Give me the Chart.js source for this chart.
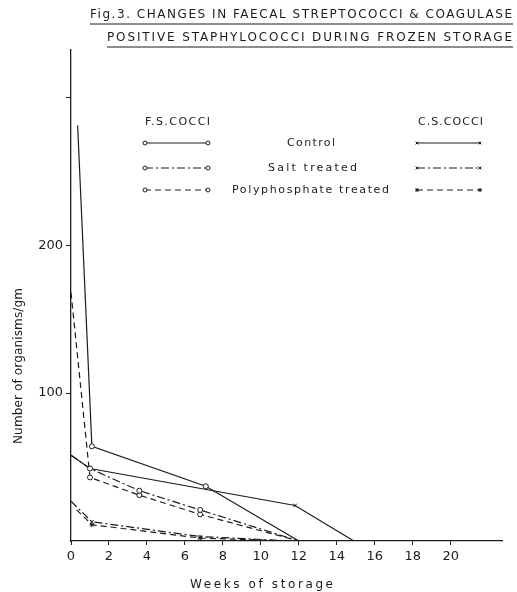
<!DOCTYPE html>
<html>
<head>
<meta charset="utf-8">
<script src="https://cdn.jsdelivr.net/npm/chart.js@4.4.0/dist/chart.umd.min.js"></script>
<style>
  html, body { margin: 0; padding: 0; background: #fff; }
  #wrap { width: 517px; height: 592px; position: relative; }
</style>
</head>
<body>
<div id="wrap"><canvas id="chart" width="517" height="592"></canvas></div>
<script>
// values (weeks of storage / organisms per gm)
const fsControlWeeks = [0.35, 1.1, 7.1, 12];
const fsControl = [281, 64, 37, 0];
const fsSaltWeeks = [0, 1, 3.6, 6.8, 12];
const fsSalt = [58, 49, 34, 21, 0];
const fsPolyWeeks = [0, 1, 3.6, 6.8, 12];
const fsPoly = [168, 43, 31, 18, 0];
const csControlWeeks = [0, 1, 11.8, 14.9];
const csControl = [58, 49, 24, 0];
const csSaltWeeks = [0, 1.1, 6.8, 11.7];
const csSalt = [27, 13, 3, 0];
const csPolyWeeks = [0.3, 1.1, 6.8, 11.5];
const csPoly = [21, 11, 2, 0];

const xTicks = [0, 2, 4, 6, 8, 10, 12, 14, 16, 18, 20];
const yTicks = [100, 200, 300];
const yLabelled = [100, 200];
const rowLabels = ["Control", "Salt treated", "Polyphosphate treated"];
const titleLines = [
    "Fig.3. CHANGES IN FAECAL STREPTOCOCCI & COAGULASE",
    "POSITIVE STAPHYLOCOCCI DURING FROZEN STORAGE",
];
const xTitle = "Weeks of storage";
const yTitle = "Number of organisms/gm";

const ink = "#1c1c1c";
const font = "'DejaVu Sans', sans-serif";
const solid = [];
const dashDot = [8, 3, 2, 3];
const dashed = [6, 4];

function pts(xs, ys) {
    return xs.map((x, i) => ({ x: x, y: ys[i] }));
}

function series(label, xs, ys, dash, marker) {
    return {
        label: label,
        data: pts(xs, ys),
        borderColor: ink,
        backgroundColor: "#fff",
        borderWidth: 1.2,
        borderDash: dash,
        pointStyle: marker,
        pointBorderColor: ink,
        pointBorderWidth: 1,
        pointRadius: (ctx) => (ctx.dataIndex > 0 && ctx.raw && ctx.raw.y > 0 ? 2.5 : 0),
        tension: 0,
    };
}

// draws text stretched between x0 and x1
function spreadText(ctx, text, x0, x1, y) {
    ctx.letterSpacing = "0px";
    const w = ctx.measureText(text).width;
    const sp = (x1 - x0 - w) / (text.length - 1);
    ctx.letterSpacing = sp + "px";
    ctx.textAlign = "left";
    ctx.fillText(text, x0, y);
    ctx.letterSpacing = "0px";
}

const decor = {
    id: "decor",
    afterDraw(chart) {
        const ctx = chart.ctx;
        ctx.save();
        ctx.fillStyle = ink;
        ctx.strokeStyle = ink;
        ctx.textBaseline = "middle";

        // title, underlined
        ctx.font = "12px " + font;
        spreadText(ctx, titleLines[0], 90, 512, 15);
        spreadText(ctx, titleLines[1], 107, 512, 38);
        ctx.lineWidth = 1;
        ctx.beginPath();
        ctx.moveTo(90, 24); ctx.lineTo(513, 24);
        ctx.moveTo(107, 47); ctx.lineTo(513, 47);
        ctx.stroke();

        // axis titles
        ctx.font = "12px " + font;
        spreadText(ctx, xTitle, 190, 333, 585);
        ctx.save();
        ctx.translate(19, 366);
        ctx.rotate(-Math.PI / 2);
        spreadText(ctx, yTitle, -78, 78, 0);
        ctx.restore();

        // legend
        ctx.font = "11px " + font;
        spreadText(ctx, "F.S.COCCI", 145, 210, 122);
        spreadText(ctx, "C.S.COCCI", 418, 483, 122);
        const rowsY = [143, 168, 190];
        const rowSpan = [[287, 335], [268, 357], [232, 389]];
        const ds = chart.data.datasets;
        rowsY.forEach((y, i) => {
            ctx.fillStyle = ink;
            spreadText(ctx, rowLabels[i], rowSpan[i][0], rowSpan[i][1], y);
            [[ds[i], 145, 208], [ds[i + 3], 417, 480]].forEach(([d, a, b]) => {
                ctx.setLineDash(d.borderDash);
                ctx.lineWidth = 1.2;
                ctx.beginPath();
                ctx.moveTo(a, y); ctx.lineTo(b, y);
                ctx.stroke();
                ctx.setLineDash([]);
                ctx.lineWidth = 1;
                ctx.fillStyle = "#fff";
                [a, b].forEach((px) => {
                    Chart.helpers.drawPoint(ctx, { pointStyle: d.pointStyle, radius: 2, borderWidth: 1 }, px, y);
                });
            });
        });
        ctx.restore();
    },
};

new Chart(document.getElementById("chart").getContext("2d"), {
    type: "line",
    data: {
        datasets: [
            series("F.S. Control", fsControlWeeks, fsControl, solid, "circle"),
            series("F.S. Salt treated", fsSaltWeeks, fsSalt, dashDot, "circle"),
            series("F.S. Polyphosphate treated", fsPolyWeeks, fsPoly, dashed, "circle"),
            series("C.S. Control", csControlWeeks, csControl, solid, "crossRot"),
            series("C.S. Salt treated", csSaltWeeks, csSalt, dashDot, "crossRot"),
            series("C.S. Polyphosphate treated", csPolyWeeks, csPoly, dashed, "star"),
        ],
    },
    options: {
        responsive: false,
        animation: false,
        layout: { padding: { left: 0, right: 15, top: 50, bottom: 0 } },
        plugins: {
            legend: { display: false },
            title: { display: false },
            tooltip: { enabled: false },
        },
        scales: {
            x: {
                type: "linear",
                min: 0,
                max: 22.7,
                afterBuildTicks: (s) => { s.ticks = xTicks.map((v) => ({ value: v })); },
                afterFit: (s) => { s.height = 51; },
                ticks: { color: ink, font: { family: font, size: 13 }, padding: 4 },
                grid: { display: true, drawOnChartArea: false, color: ink, tickLength: 4 },
                border: { display: true, color: ink, width: 1.3 },
            },
            y: {
                type: "linear",
                min: 0,
                max: 332,
                afterBuildTicks: (s) => { s.ticks = yTicks.map((v) => ({ value: v })); },
                afterFit: (s) => { s.width = 71; },
                ticks: {
                    color: ink,
                    font: { family: font, size: 13 },
                    padding: 3,
                    callback: (v) => (yLabelled.includes(v) ? v : ""),
                },
                grid: { display: true, drawOnChartArea: false, color: ink, tickLength: 5 },
                border: { display: true, color: ink, width: 1.3 },
            },
        },
    },
    plugins: [decor],
});
</script>
</body>
</html>
